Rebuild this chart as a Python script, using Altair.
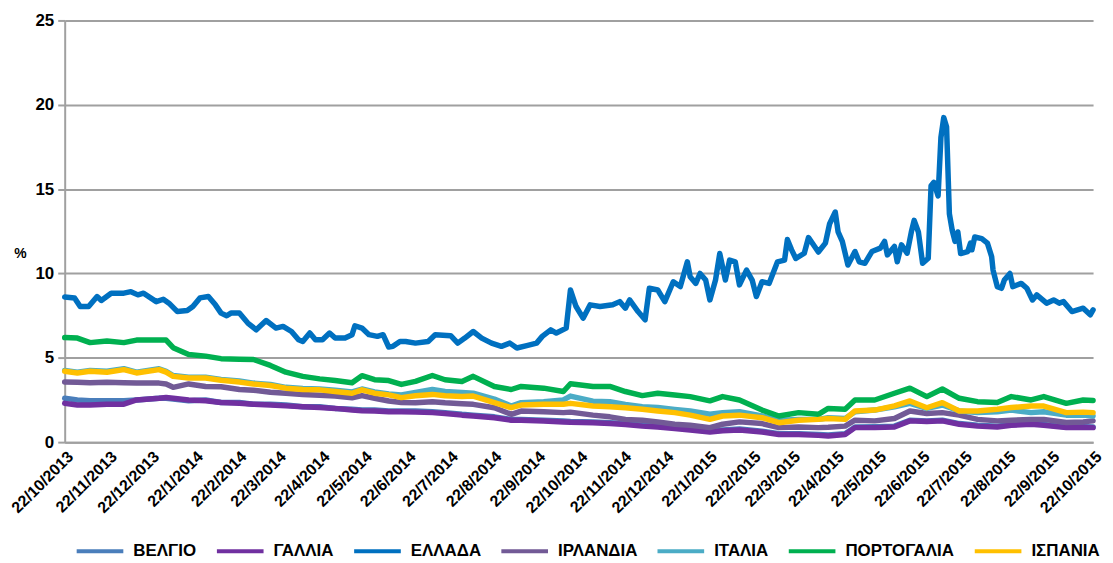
import altair as alt
import pandas as pd

START = pd.Timestamp("2013-10-22")

# Greece: days since 22/10/2013 and yield (%)
greece_day = [0, 7, 11, 17, 23, 26, 33, 42, 47, 52, 56, 65, 70, 74, 80, 87, 91, 96, 102, 107,
              111, 115, 118, 124, 130, 136, 143, 150, 155, 161, 166, 169, 174, 178, 183, 188, 192, 199, 204, 206,
              211, 216, 222, 226, 230, 233, 238, 242, 249, 258, 263, 274, 279, 284, 290, 296, 303, 310, 316, 321,
              328, 335, 339, 345, 349, 356, 359, 363, 368, 373, 380, 389, 394, 398, 401, 407, 412, 415, 421, 426,
              432, 437, 442, 444, 448, 451, 455, 458, 462, 465, 469, 472, 476, 479, 484, 488, 491, 495, 500, 506,
              511, 513, 516, 519, 525, 528, 535, 540, 543, 547, 549, 552, 556, 561, 564, 568, 573, 579, 582, 584,
              589, 591, 594, 598, 601, 603, 606, 609, 613, 615, 617, 620, 622, 624, 626, 628, 630, 632, 634, 636,
              641, 643, 644, 646, 651, 655, 658, 659, 662, 665, 667, 671, 673, 679, 683, 687, 690, 697, 702, 706,
              709, 715, 723, 728, 730]
greece_pct = [8.6, 8.55, 8.04, 8.04, 8.63, 8.4, 8.83, 8.83, 8.92, 8.73, 8.83, 8.33, 8.47, 8.24, 7.74, 7.8, 8.04, 8.55, 8.63, 8.14,
              7.65, 7.49, 7.65, 7.65, 7.06, 6.66, 7.21, 6.76, 6.86, 6.56, 6.07, 5.97, 6.47, 6.07, 6.07, 6.47, 6.17, 6.17, 6.37, 6.9,
              6.76, 6.37, 6.27, 6.37, 5.64, 5.68, 5.97, 5.97, 5.87, 5.97, 6.37, 6.31, 5.87, 6.17, 6.56, 6.17, 5.87, 5.68, 5.87, 5.58,
              5.72, 5.87, 6.27, 6.66, 6.47, 6.76, 9.02, 8.04, 7.35, 8.14, 8.04, 8.14, 8.33, 7.94, 8.43, 7.74, 7.25, 9.12, 9.02, 8.33,
              9.51, 9.22, 10.69, 9.81, 9.41, 10.0, 9.61, 8.43, 9.61, 11.18, 9.61, 10.79, 10.69, 9.32, 10.2, 9.61, 8.63, 9.51, 9.41, 10.69,
              10.79, 12.01, 11.4, 10.89, 11.2, 12.13, 11.27, 11.8, 12.95, 13.64, 12.46, 11.9, 10.5, 11.3, 10.69, 10.6, 11.3, 11.5, 11.9, 11.1,
              11.6, 10.69, 11.7, 11.2, 12.46, 13.15, 12.46, 10.6, 10.9, 15.2, 15.4, 14.6, 18.06, 19.24, 18.7, 13.54, 12.56, 11.9, 12.46, 11.18,
              11.3, 11.8, 11.4, 12.16, 12.06, 11.8, 11.0, 10.2, 9.22, 9.12, 9.61, 10.0, 9.22, 9.41, 9.12, 8.43, 8.73, 8.24, 8.43, 8.24,
              8.33, 7.74, 7.94, 7.55, 7.84]

# Other countries share one grid of days since 22/10/2013
grid_day = [0, 9, 18, 30, 42, 51, 67, 72, 77, 88, 100, 111, 124, 134, 146, 157, 169, 181, 192, 204,
            211, 220, 230, 239, 249, 261, 270, 282, 290, 305, 317, 324, 340, 354, 359, 375, 387, 398, 410, 421,
            433, 444, 458, 467, 479, 495, 507, 521, 535, 542, 554, 561, 575, 589, 600, 612, 623, 635, 648, 662,
            672, 686, 695, 711, 723, 730]

belgium = [2.6, 2.5, 2.45, 2.45, 2.45, 2.5, 2.6, 2.6, 2.55, 2.45, 2.5, 2.35, 2.35, 2.25, 2.25, 2.2, 2.1, 2.1, 2.0, 1.95,
           1.9, 1.9, 1.85, 1.85, 1.85, 1.8, 1.75, 1.65, 1.6, 1.5, 1.35, 1.35, 1.3, 1.25, 1.22, 1.2, 1.15, 1.1, 1.0, 0.95,
           0.85, 0.78, 0.65, 0.72, 0.78, 0.65, 0.5, 0.5, 0.45, 0.42, 0.5, 0.9, 0.92, 0.95, 1.3, 1.25, 1.3, 1.1, 1.0, 0.95,
           1.05, 1.1, 1.05, 0.9, 0.92, 0.9]
france = [2.3, 2.2, 2.2, 2.25, 2.25, 2.5, 2.6, 2.65, 2.6, 2.5, 2.45, 2.35, 2.3, 2.25, 2.2, 2.15, 2.1, 2.05, 2.0, 1.9,
          1.86, 1.84, 1.8, 1.8, 1.78, 1.75, 1.7, 1.6, 1.55, 1.45, 1.3, 1.3, 1.25, 1.2, 1.18, 1.15, 1.1, 1.05, 0.95, 0.9,
          0.8, 0.72, 0.6, 0.68, 0.72, 0.6, 0.45, 0.45, 0.4, 0.36, 0.45, 0.86, 0.86, 0.9, 1.26, 1.22, 1.26, 1.06, 0.95, 0.9,
          1.0, 1.06, 1.0, 0.86, 0.88, 0.86]
ireland = [3.56, 3.55, 3.52, 3.55, 3.52, 3.5, 3.5, 3.45, 3.25, 3.45, 3.3, 3.28, 3.12, 3.08, 2.96, 2.9, 2.82, 2.78, 2.73, 2.63,
           2.76, 2.6, 2.44, 2.35, 2.33, 2.4, 2.33, 2.28, 2.24, 2.04, 1.65, 1.84, 1.8, 1.75, 1.78, 1.6, 1.5, 1.35, 1.3, 1.2,
           1.06, 1.0, 0.86, 1.06, 1.2, 1.1, 0.86, 0.9, 0.86, 0.88, 0.95, 1.3, 1.26, 1.4, 1.85, 1.7, 1.75, 1.6, 1.35, 1.26,
           1.3, 1.35, 1.35, 1.16, 1.2, 1.26]
italy = [4.25, 4.15, 4.25, 4.2, 4.35, 4.15, 4.35, 4.2, 3.95, 3.85, 3.85, 3.72, 3.62, 3.5, 3.42, 3.25, 3.18, 3.15, 3.08, 2.98,
         3.15, 2.98, 2.85, 2.8, 2.95, 3.12, 3.0, 2.95, 2.9, 2.55, 2.14, 2.34, 2.4, 2.5, 2.73, 2.43, 2.4, 2.24, 2.1, 2.05,
         1.94, 1.85, 1.65, 1.75, 1.8, 1.55, 1.3, 1.35, 1.35, 1.45, 1.4, 1.8, 1.9, 2.1, 2.3, 2.0, 2.2, 1.85, 1.75, 1.8,
         1.9, 1.75, 1.8, 1.6, 1.6, 1.55]
portugal = [6.2, 6.17, 5.9, 6.0, 5.9, 6.05, 6.05, 6.05, 5.6, 5.2, 5.1, 4.95, 4.92, 4.9, 4.55, 4.15, 3.9, 3.75, 3.65, 3.52,
            3.94, 3.7, 3.65, 3.42, 3.6, 3.95, 3.7, 3.6, 3.9, 3.3, 3.12, 3.3, 3.2, 3.0, 3.46, 3.3, 3.3, 3.0, 2.76, 2.9,
            2.8, 2.7, 2.45, 2.7, 2.5, 1.9, 1.55, 1.75, 1.65, 2.0, 1.95, 2.5, 2.5, 2.9, 3.2, 2.7, 3.15, 2.6, 2.4, 2.35,
            2.7, 2.5, 2.7, 2.3, 2.5, 2.47]
spain = [4.2, 4.1, 4.2, 4.14, 4.3, 4.1, 4.3, 4.15, 3.9, 3.8, 3.8, 3.67, 3.56, 3.45, 3.36, 3.2, 3.12, 3.1, 3.0, 2.9,
         3.1, 2.9, 2.8, 2.64, 2.75, 2.83, 2.75, 2.7, 2.73, 2.34, 2.04, 2.2, 2.24, 2.25, 2.3, 2.14, 2.1, 2.04, 1.95, 1.85,
         1.75, 1.6, 1.35, 1.55, 1.6, 1.45, 1.15, 1.3, 1.35, 1.4, 1.35, 1.85, 1.9, 2.15, 2.44, 2.04, 2.34, 1.85, 1.85, 1.95,
         2.05, 2.14, 2.14, 1.75, 1.78, 1.75]

countries = ["ΒΕΛΓΙΟ", "ΓΑΛΛΙΑ", "ΕΛΛΑΔΑ", "ΙΡΛΑΝΔΙΑ", "ΙΤΑΛΙΑ", "ΠΟΡΤΟΓΑΛΙΑ", "ΙΣΠΑΝΙΑ"]
colors = ["#4A7EBB", "#7030A0", "#0070C0", "#725A96", "#4BACC6", "#00B050", "#FFC000"]
tick_labels = ["22/10/2013", "22/11/2013", "22/12/2013", "22/1/2014", "22/2/2014", "22/3/2014", "22/4/2014",
               "22/5/2014", "22/6/2014", "22/7/2014", "22/8/2014", "22/9/2014", "22/10/2014", "22/11/2014",
               "22/12/2014", "22/1/2015", "22/2/2015", "22/3/2015", "22/4/2015", "22/5/2015", "22/6/2015",
               "22/7/2015", "22/8/2015", "22/9/2015", "22/10/2015"]

series = [
    (countries[0], grid_day, belgium),
    (countries[1], grid_day, france),
    (countries[2], greece_day, greece_pct),
    (countries[3], grid_day, ireland),
    (countries[4], grid_day, italy),
    (countries[5], grid_day, portugal),
    (countries[6], grid_day, spain),
]

rows = []
for name, days, vals in series:
    for d, v in zip(days, vals):
        rows.append({"date": (START + pd.Timedelta(days=d)).strftime("%Y-%m-%dT00:00:00"),
                     "country": name, "value": v})
df = pd.DataFrame(rows)

tick_values = []
for lab in tick_labels:
    dd, mm, yy = (int(p) for p in lab.split("/"))
    tick_values.append(alt.DateTime(year=yy, month=mm, date=dd))

FONT = "Liberation Sans Narrow, Arial Narrow, Liberation Sans, Arial"

chart = alt.Chart(df).mark_line(strokeWidth=5.5, strokeCap="round", strokeJoin="round").encode(
    x=alt.X("date:T",
            scale=alt.Scale(domain=[alt.DateTime(year=2013, month=10, date=22),
                                    alt.DateTime(year=2015, month=10, date=22)], nice=False),
            axis=alt.Axis(values=tick_values, format="%-d/%-m/%Y", labelAngle=-45, grid=False,
                          ticks=False, labelFontSize=16, labelFont=FONT, labelFontWeight="bold",
                          labelColor="black", domainColor="#A0A0A0", domainWidth=2, labelPadding=6,
                          labelOverlap=False, labelAlign="right", labelBaseline="top", title=None)),
    y=alt.Y("value:Q", scale=alt.Scale(domain=[0, 25], nice=False),
            axis=alt.Axis(values=[0, 5, 10, 15, 20, 25], grid=True, gridColor="#A0A0A0", gridWidth=2,
                          tickColor="#A0A0A0", tickSize=7, tickWidth=2, domainColor="#A0A0A0", domainWidth=2,
                          labelFontSize=17, labelFont=FONT, labelFontWeight="bold", labelColor="black",
                          labelPadding=4, title="%", titleAngle=0, titleX=-45, titleY=234,
                          titleFont=FONT, titleFontSize=14, titleFontWeight="bold", titleColor="black",
                          titleAlign="center", titleBaseline="middle")),
    color=alt.Color("country:N", scale=alt.Scale(domain=countries, range=colors),
                    legend=alt.Legend(title=None, orient="none", direction="horizontal",
                                      legendX=10, legendY=508, symbolType="stroke", symbolSize=2200,
                                      symbolStrokeWidth=4, labelFont=FONT, labelFontSize=17,
                                      labelFontWeight="bold", labelColor="black", labelOffset=8,
                                      columnPadding=12, columns=7)),
).properties(
    width=1034, height=424, padding={"left": 0, "top": 2, "right": 0, "bottom": 0}
).configure_view(stroke=None)

chart.save("out.html", embed_options={"renderer": "svg", "actions": False})
